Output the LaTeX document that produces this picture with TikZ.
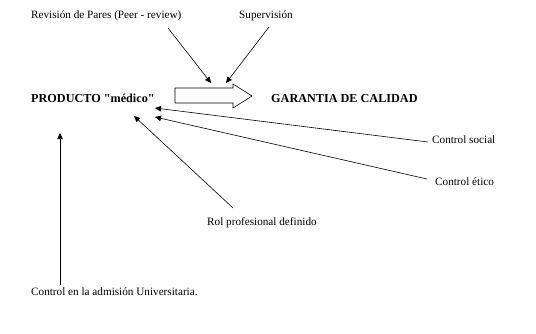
\documentclass[tikz,border=0pt]{standalone}
\usepackage{fontspec}
\setmainfont{Liberation Serif}
\usepackage{xcolor}
\usetikzlibrary{arrows.meta,positioning,calc}
\definecolor{InkBlack}{HTML}{000000}

\begin{document}
\begin{tikzpicture}[x=1pt,y=-1pt,>={Triangle[length=6pt,width=5.5pt]},
  lbl/.style={font=\fontsize{11.2}{13}\selectfont,text=InkBlack,inner sep=0pt,anchor=base west},
  lblbold/.style={lbl,font=\fontsize{12.2}{14}\selectfont\bfseries},
  conn/.style={InkBlack,line width=0.6pt,->}]
  \useasboundingbox (0,0) rectangle (536,333);
  % textos
  \node[lbl] (revision) at (31,18) {Revisión de Pares (Peer - review)};
  \node[lbl] (supervision) at (239,18) {Supervisión};
  \node[lblbold] (producto) at (31,102) {PRODUCTO \textquotedbl médico\textquotedbl};
  \node[lblbold] (garantia) at (271,102) {GARANTIA DE CALIDAD};
  \node[lbl] (social) at (432,143) {Control social};
  \node[lbl] (etico) at (435,185) {Control ético};
  \node[lbl] (rol) at (207,225) {Rol profesional definido};
  \node[lbl] (admision) at (31,295) {Control en la admisión Universitaria.};
  % flecha gruesa
  \draw[InkBlack,line width=0.6pt,fill=white] (175,88) -- (233,88) -- (233,84)
    -- (252,96) -- (233,108) -- (233,103) -- (175,103) -- cycle;
  % puntos de llegada
  \coordinate (pRev) at (211,83);
  \coordinate (pSup) at (226,83);
  \coordinate (pSoc) at (155,108);
  \coordinate (pEti) at (155,117);
  \coordinate (pRol) at (134,116);
  \coordinate (pAdm) at (60,133);
  % conectores
  \draw[conn] ($(revision.base west)+(137,10)$) -- (pRev);
  \draw[conn] ($(supervision.base west)+(30,9)$) -- (pSup);
  \draw[conn] ($(social.base west)+(-4,-1)$) -- (pSoc);
  \draw[conn] ($(etico.base west)+(-8,-6)$) -- (pEti);
  \draw[conn] ($(rol.base west)+(26,-17)$) -- (pRol);
  \draw[conn] ($(admision.base west)+(29,-10)$) -- (pAdm);
\end{tikzpicture}
\end{document}
